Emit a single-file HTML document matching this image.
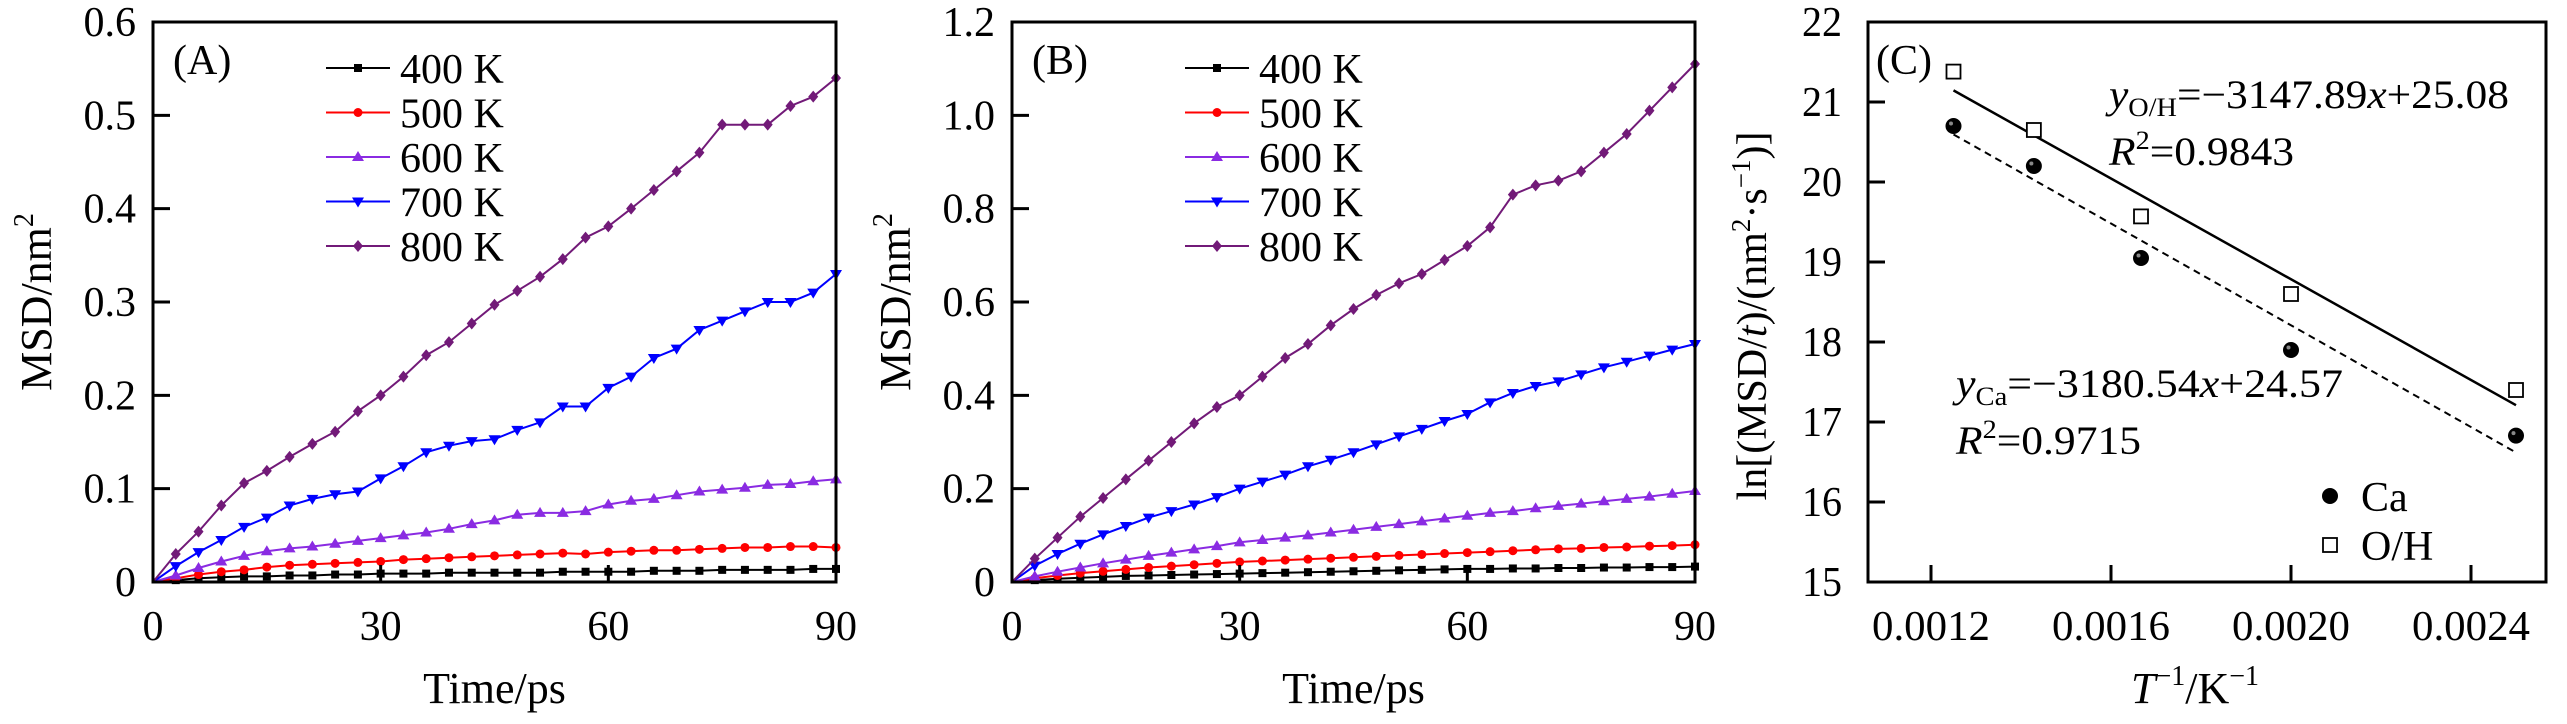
<!DOCTYPE html>
<html><head><meta charset="utf-8"><style>
html,body{margin:0;padding:0;background:#fff;}
svg{display:block;font-family:"Liberation Serif",serif;}
</style></head><body>
<svg id="fig" width="2567" height="724" viewBox="0 0 2567 724" xmlns="http://www.w3.org/2000/svg"></svg>
<script>
// ---- Panel A/B data (time in ps, MSD in nm^2) ----
const times = [0,3,6,9,12,15,18,21,24,27,30,33,36,39,42,45,48,51,54,57,60,63,66,69,72,75,78,81,84,87,90];
const seriesLabels = ["400 K","500 K","600 K","700 K","800 K"];
const a400 = [0,0.002,0.004,0.005,0.006,0.006,0.007,0.007,0.008,0.008,0.009,0.009,0.009,0.010,0.010,0.010,0.010,0.010,0.011,0.011,0.011,0.011,0.012,0.012,0.012,0.013,0.013,0.013,0.013,0.014,0.014];
const a500 = [0,0.004,0.008,0.011,0.013,0.016,0.018,0.019,0.020,0.021,0.022,0.024,0.025,0.026,0.027,0.028,0.029,0.030,0.031,0.030,0.032,0.033,0.034,0.034,0.035,0.036,0.037,0.037,0.038,0.038,0.037];
const a600 = [0,0.007,0.015,0.022,0.028,0.033,0.036,0.038,0.041,0.044,0.047,0.050,0.053,0.057,0.062,0.066,0.072,0.074,0.074,0.076,0.083,0.087,0.089,0.093,0.097,0.099,0.101,0.104,0.105,0.108,0.110];
const a700 = [0,0.017,0.032,0.045,0.059,0.069,0.082,0.089,0.094,0.097,0.111,0.124,0.139,0.146,0.151,0.153,0.163,0.171,0.188,0.188,0.208,0.220,0.240,0.250,0.270,0.280,0.290,0.300,0.300,0.310,0.330];
const a800 = [0,0.030,0.054,0.082,0.106,0.119,0.134,0.148,0.161,0.183,0.200,0.220,0.243,0.257,0.277,0.297,0.312,0.327,0.346,0.369,0.381,0.400,0.420,0.440,0.460,0.490,0.490,0.490,0.510,0.520,0.540];
const b400 = [0,0.004,0.007,0.009,0.011,0.013,0.014,0.015,0.016,0.017,0.018,0.019,0.020,0.021,0.022,0.023,0.024,0.025,0.026,0.027,0.028,0.028,0.029,0.029,0.030,0.030,0.031,0.031,0.032,0.032,0.033];
const b500 = [0,0.008,0.014,0.019,0.023,0.027,0.031,0.034,0.037,0.040,0.043,0.045,0.047,0.049,0.051,0.053,0.055,0.057,0.059,0.061,0.063,0.065,0.067,0.069,0.071,0.072,0.074,0.075,0.077,0.078,0.080];
const b600 = [0,0.012,0.022,0.031,0.040,0.048,0.056,0.063,0.070,0.077,0.085,0.090,0.095,0.100,0.106,0.112,0.118,0.124,0.130,0.136,0.142,0.148,0.152,0.158,0.163,0.168,0.173,0.178,0.183,0.189,0.195];
const b700 = [0,0.035,0.060,0.082,0.102,0.120,0.138,0.152,0.166,0.182,0.200,0.215,0.230,0.248,0.262,0.278,0.295,0.312,0.328,0.345,0.360,0.385,0.405,0.420,0.430,0.445,0.460,0.472,0.485,0.498,0.510];
const b800 = [0,0.050,0.095,0.140,0.180,0.220,0.260,0.300,0.340,0.375,0.400,0.440,0.480,0.510,0.550,0.585,0.615,0.640,0.660,0.690,0.720,0.760,0.830,0.850,0.860,0.880,0.920,0.960,1.010,1.060,1.110];
const yTicksA = ["0","0.1","0.2","0.3","0.4","0.5","0.6"];
const yTicksB = ["0","0.2","0.4","0.6","0.8","1.0","1.2"];
const xTicksAB = ["0","30","60","90"];
// ---- Panel C data ----
const invT = [0.00125,0.0014286,0.0016667,0.0020,0.0025];
const lnCa = [20.70,20.20,19.05,17.90,16.83];
const lnOH = [21.38,20.65,19.57,18.60,17.40];
const fitOH = [-3147.89,25.08];
const fitCa = [-3180.54,24.57];
const xTicksC = ["0.0012","0.0016","0.0020","0.0024"];
const yTicksC = ["15","16","17","18","19","20","21","22"];

const NS="http://www.w3.org/2000/svg";
const svg=document.getElementById('fig');
function mk(tag,attrs,parent){const e=document.createElementNS(NS,tag);for(const k in attrs)e.setAttribute(k,attrs[k]);(parent||svg).appendChild(e);return e;}
const colors=["#000000","#ff0000","#8a2be2","#0000ff","#721a78"];
const shapes=["square","circle","tri","itri","diamond"];
function marker(g,shape,x,y,c){
  let e;
  if(shape==="square")e=mk('rect',{x:x-4,y:y-4,width:8,height:8,fill:c},g);
  else if(shape==="circle")e=mk('circle',{cx:x,cy:y,r:4.5,fill:c},g);
  else if(shape==="tri")e=mk('polygon',{points:`${x},${y-6} ${x+6},${y+4} ${x-6},${y+4}`,fill:c},g);
  else if(shape==="itri")e=mk('polygon',{points:`${x},${y+6} ${x+6},${y-4} ${x-6},${y-4}`,fill:c},g);
  else e=mk('polygon',{points:`${x},${y-6} ${x+5},${y} ${x},${y+6} ${x-5},${y}`,fill:c},g);
  
  
}
const TOP=22,BOT=582;
function panel(id,left,right,ymax,yt,series,tag){
  const g=mk('g',{});
  
  
  const xs=t=>left+(t/90)*(right-left);
  const ys=v=>BOT-(v/ymax)*(BOT-TOP);
  series.forEach((s,i)=>{
    const sg=mk('g',{},g);
    
    
    const d=s.map((v,j)=>(j?'L':'M')+xs(times[j]).toFixed(1)+','+ys(v).toFixed(1)).join('');
    const p=mk('path',{d:d,fill:'none',stroke:colors[i],'stroke-width':2},sg);
    
    
    s.forEach((v,j)=>{if(j>0)marker(sg,shapes[i],xs(times[j]),ys(v),colors[i]);});
  });
  const fr=mk('rect',{x:left,y:TOP,width:right-left,height:BOT-TOP,fill:'none',stroke:'#000','stroke-width':3},g);
  
  
  yt.forEach((lab,i)=>{
    const v=parseFloat(lab),y=ys(v);
    if(i>0&&i<yt.length-1){const l=mk('line',{x1:left,x2:left+17,y1:y,y2:y,stroke:'#000','stroke-width':3},g);
      }
    const t=mk('text',{x:left-17,y:y+14,'text-anchor':'end','font-size':42},g);
    
    
    t.textContent=lab;
  });
  xTicksAB.forEach((lab,i)=>{
    const x=xs(parseFloat(lab));
    if(i>0&&i<xTicksAB.length-1){const l=mk('line',{x1:x,x2:x,y1:BOT,y2:BOT-17,stroke:'#000','stroke-width':3},g);
      }
    const t=mk('text',{x:x,y:640,'text-anchor':'middle','font-size':42},g);
    
    
    t.textContent=lab;
  });
  const xt=mk('text',{x:(left+right)/2,y:703,'text-anchor':'middle','font-size':44},g);
  
  
  xt.textContent='Time/ps';
  const yl=mk('text',{x:0,y:0,'text-anchor':'middle','font-size':44,transform:`translate(${left-102},302) rotate(-90)`},g);
  
  
  yl.innerHTML='MSD/nm<tspan font-size="28" dy="-18">2</tspan>';
  const pl=mk('text',{x:left+20,y:74,'font-size':42},g);
  
  
  pl.textContent=tag;
  seriesLabels.forEach((lab,i)=>{
    const y=68+i*44.5;
    const lg=mk('g',{},g);
    
    
    mk('line',{x1:left+173,x2:left+237,y1:y,y2:y,stroke:colors[i],'stroke-width':2},lg);
    marker(lg,shapes[i],left+205,y,colors[i]);
    const t=mk('text',{x:left+247,y:y+15,'font-size':42},lg);
    t.textContent=lab;
  });
}
panel('a',153,836,0.6,yTicksA,[a400,a500,a600,a700,a800],'(A)');
panel('b',1012,1695,1.2,yTicksB,[b400,b500,b600,b700,b800],'(B)');

(function(){
  const L=1868,R=2546;
  const g=mk('g',{});
  
  
  const xs=v=>1931+(v-0.0012)/0.0004*180;
  const ys=v=>BOT-(v-15)/7*(BOT-TOP);
  const x0=invT[0],x1=invT[invT.length-1];
  const lo=mk('line',{x1:xs(x0),y1:ys(fitOH[0]*x0+fitOH[1]),x2:xs(x1),y2:ys(fitOH[0]*x1+fitOH[1]),stroke:'#000','stroke-width':2.5},g);
  
  const lc=mk('line',{x1:xs(x0),y1:ys(fitCa[0]*x0+fitCa[1]),x2:xs(x1),y2:ys(fitCa[0]*x1+fitCa[1]),stroke:'#000','stroke-width':2,'stroke-dasharray':'7,5'},g);
  
  function ca(x,y){const c=mk('circle',{cx:x,cy:y,r:8,fill:'#000'},g);
    mk('circle',{cx:x-2.5,cy:y-2.5,r:2,fill:'#888'},g);}
  function oh(x,y){const r=mk('rect',{x:x-7,y:y-7,width:14,height:14,fill:'#fff',stroke:'#000','stroke-width':1.8},g);}
  invT.forEach((v,i)=>{ca(xs(v),ys(lnCa[i]));oh(xs(v),ys(lnOH[i]));});
  const fr=mk('rect',{x:L,y:TOP,width:R-L,height:BOT-TOP,fill:'none',stroke:'#000','stroke-width':3},g);
  
  yTicksC.forEach((lab,i)=>{
    const y=ys(parseFloat(lab));
    if(i>0&&i<yTicksC.length-1){const l=mk('line',{x1:L,x2:L+17,y1:y,y2:y,stroke:'#000','stroke-width':3},g);}
    const t=mk('text',{x:1842,y:y+14,'text-anchor':'end','font-size':42,textLength:40,lengthAdjust:'spacingAndGlyphs'},g);
    
    t.textContent=lab;
  });
  xTicksC.forEach(lab=>{
    const x=xs(parseFloat(lab));
    const l=mk('line',{x1:x,x2:x,y1:BOT,y2:BOT-17,stroke:'#000','stroke-width':3},g);
    const t=mk('text',{x:x,y:640,'text-anchor':'middle','font-size':42,textLength:118,lengthAdjust:'spacingAndGlyphs'},g);
    
    t.textContent=lab;
  });
  const xt=mk('text',{x:2195,y:703,'text-anchor':'middle','font-size':44},g);
  
  xt.innerHTML='<tspan font-style="italic">T</tspan><tspan font-size="28" dy="-18">−1</tspan><tspan dy="18">/K</tspan><tspan font-size="28" dy="-18">−1</tspan>';
  const yl=mk('text',{x:0,y:0,'text-anchor':'middle','font-size':42,transform:'translate(1766,316) rotate(-90)'},g);
  
  yl.innerHTML='ln[(MSD/<tspan font-style="italic">t</tspan>)/(nm<tspan font-size="27" dy="-16">2</tspan><tspan dy="16">·s</tspan><tspan font-size="27" dy="-16">−1</tspan><tspan dy="16">)]</tspan>';
  const pl=mk('text',{x:1876,y:74,'font-size':42},g);
  
  pl.textContent='(C)';
  function eq(x,y,sub,body,r2,w,name){
    const t=mk('text',{x:x,y:y,'font-size':40,textLength:w,lengthAdjust:'spacingAndGlyphs'},g);
    
    t.innerHTML='<tspan font-style="italic">y</tspan><tspan font-size="26" dy="8">'+sub+'</tspan><tspan dy="-8">'+body+'</tspan>';
    const r=mk('text',{x:x,y:y+57,'font-size':40,textLength:185,lengthAdjust:'spacingAndGlyphs'},g);
    
    r.innerHTML='<tspan font-style="italic">R</tspan><tspan font-size="26" dy="-16">2</tspan><tspan dy="16">='+r2+'</tspan>';
  }
  eq(2109,108,'O/H','=−3147.89<tspan font-style="italic">x</tspan>+25.08','0.9843',400,'equation-oh');
  eq(1956,397,'Ca','=−3180.54<tspan font-style="italic">x</tspan>+24.57','0.9715',387,'equation-ca');
  const lg1=mk('g',{},g);
  mk('circle',{cx:2330,cy:496,r:8,fill:'#000'},lg1);
  const t1=mk('text',{x:2361,y:511,'font-size':42},lg1);t1.textContent='Ca';
  const lg2=mk('g',{},g);
  mk('rect',{x:2323,y:538,width:14,height:14,fill:'#fff',stroke:'#000','stroke-width':1.8},lg2);
  const t2=mk('text',{x:2361,y:560,'font-size':42},lg2);t2.textContent='O/H';
})();
</script>
</body></html>
